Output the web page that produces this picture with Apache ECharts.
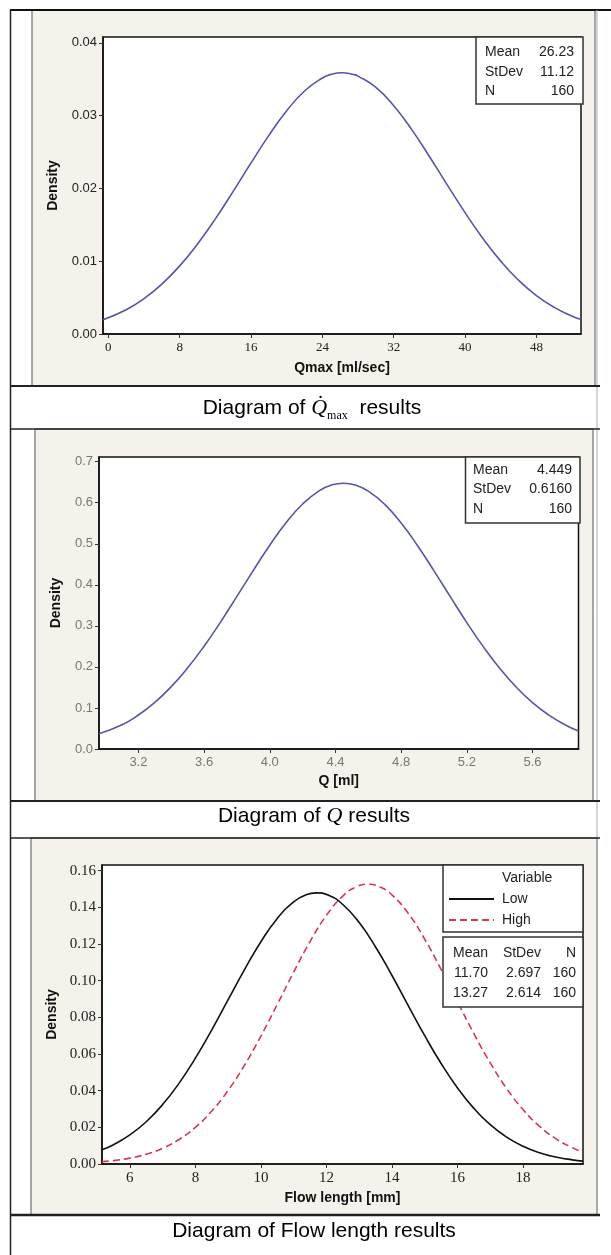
<!DOCTYPE html>
<html><head><meta charset="utf-8">
<script src="https://cdn.jsdelivr.net/npm/echarts@6/dist/echarts.min.js"></script>
<style>html,body{margin:0;padding:0;background:#fff}#c{width:611px;height:1255px}</style>
</head><body><div id="c"></div>
<script>
// ---- Panel 1: Qmax ----
const qmaxX = [-0.6, 2, 4, 6, 8, 10, 12, 14, 16, 18, 20, 22, 24, 25, 26.23, 27.5, 28, 30, 32, 34, 36, 38, 40, 42, 44, 46, 48, 50, 52, 53];
const qmaxDensity = [0.00195, 0.00334, 0.00487, 0.00686, 0.00936, 0.01237, 0.01582, 0.01960, 0.02350, 0.02728, 0.03067, 0.03338, 0.03517, 0.03567, 0.03588, 0.03565, 0.03543, 0.03388, 0.03136, 0.02811, 0.02439, 0.02049, 0.01667, 0.01313, 0.01001, 0.00739, 0.00528, 0.00365, 0.00245, 0.00198];
const qmaxXTicks = [0, 8, 16, 24, 32, 40, 48];
const qmaxYTicks = [0, 0.01, 0.02, 0.03, 0.04];
const qmaxStatLabels = ['Mean', 'StDev', 'N'];
const qmaxStatValues = ['26.23', '11.12', '160'];

// ---- Panel 2: Q ----
const qX = [2.96, 3.1, 3.2, 3.3, 3.4, 3.5, 3.6, 3.7, 3.8, 3.9, 4.0, 4.1, 4.2, 4.3, 4.38, 4.449, 4.52, 4.6, 4.7, 4.8, 4.9, 5.0, 5.1, 5.2, 5.3, 5.4, 5.5, 5.6, 5.7, 5.8, 5.88];
const qDensity = [0.0370, 0.0589, 0.0829, 0.1137, 0.1519, 0.1977, 0.2505, 0.3092, 0.3718, 0.4353, 0.4965, 0.5516, 0.5968, 0.6290, 0.6436, 0.6476, 0.6434, 0.6284, 0.5960, 0.5506, 0.4953, 0.4341, 0.3705, 0.3080, 0.2494, 0.1967, 0.1511, 0.1130, 0.0824, 0.0585, 0.0436];
const qXTicks = [3.2, 3.6, 4.0, 4.4, 4.8, 5.2, 5.6];
const qYTicks = [0, 0.1, 0.2, 0.3, 0.4, 0.5, 0.6, 0.7];
const qStatLabels = ['Mean', 'StDev', 'N'];
const qStatValues = ['4.449', '0.6160', '160'];

// ---- Panel 3: Flow length ----
const flowLowX = [5.15, 5.5, 6, 6.5, 7, 7.5, 8, 8.5, 9, 9.5, 10, 10.5, 11, 11.35, 11.7, 12.05, 12.5, 13, 13.5, 14, 14.5, 15, 15.5, 16, 16.5, 17, 17.5, 18, 18.5, 19, 19.5, 19.83];
const flowLow = [0.00775, 0.01053, 0.01585, 0.02306, 0.03240, 0.04399, 0.05772, 0.07317, 0.08962, 0.10606, 0.12126, 0.13398, 0.14302, 0.14668, 0.14792, 0.14668, 0.14155, 0.13170, 0.11839, 0.10283, 0.08629, 0.06997, 0.05482, 0.04150, 0.03035, 0.02145, 0.01465, 0.00966, 0.00616, 0.00379, 0.00226, 0.00157];
const flowHighX = [5.15, 5.5, 6, 6.5, 7, 7.5, 8, 8.5, 9, 9.5, 10, 10.5, 11, 11.5, 12, 12.5, 12.9, 13.27, 13.65, 14, 14.5, 15, 15.5, 16, 16.5, 17, 17.5, 18, 18.5, 19, 19.5, 19.83];
const flowHigh = [0.00123, 0.00184, 0.00319, 0.00533, 0.00860, 0.01335, 0.02000, 0.02887, 0.04019, 0.05394, 0.06979, 0.08705, 0.10468, 0.12135, 0.13563, 0.14614, 0.15110, 0.15262, 0.15098, 0.14678, 0.13662, 0.12260, 0.10606, 0.08846, 0.07113, 0.05514, 0.04120, 0.02969, 0.02062, 0.01381, 0.00892, 0.00655];
const flowXTicks = [6, 8, 10, 12, 14, 16, 18];
const flowYTicks = [0, 0.02, 0.04, 0.06, 0.08, 0.10, 0.12, 0.14, 0.16];
const flowSeriesNames = ['Low', 'High'];
const flowStatHeader = ['Mean', 'StDev', 'N'];
const flowStatLow = ['11.70', '2.697', '160'];
const flowStatHigh = ['13.27', '2.614', '160'];

const SANS = 'Liberation Sans, Arial, sans-serif';
const SERIF = 'Liberation Serif, Times New Roman, serif';

function pairs(xs, ys) { return xs.map((x, i) => [x, ys[i]]); }

function makeX(gi, min, max, ticks, dec, name, fam, size, color, gap) {
  return {
    type: 'value', gridIndex: gi, min: min, max: max,
    name: name, nameLocation: 'middle', nameGap: gap,
    nameTextStyle: { fontFamily: SANS, fontWeight: 'bold', fontSize: 14, color: '#111' },
    axisLine: { show: true, onZero: false, lineStyle: { color: '#111', width: 1.5 } },
    axisTick: { show: true, inside: false, length: 4, customValues: ticks, lineStyle: { color: '#333' } },
    axisLabel: { customValues: ticks, margin: 7, fontFamily: fam, fontSize: size, color: color,
      formatter: v => Number(v).toFixed(dec) },
    splitLine: { show: false }
  };
}
function makeY(gi, max, ticks, dec, fam, size, color, gap) {
  return {
    type: 'value', gridIndex: gi, min: 0, max: max,
    name: 'Density', nameLocation: 'middle', nameGap: gap,
    nameTextStyle: { fontFamily: SANS, fontWeight: 'bold', fontSize: 14, color: '#111' },
    axisLine: { show: true, onZero: false, lineStyle: { color: '#111', width: 1.5 } },
    axisTick: { show: true, inside: false, length: 4, customValues: ticks, lineStyle: { color: '#333' } },
    axisLabel: { customValues: ticks, margin: 6, fontFamily: fam, fontSize: size, color: color,
      formatter: v => Number(v).toFixed(dec) },
    splitLine: { show: false }
  };
}

function statBox(x, y, w, h, rows, labelX, valueX, statLabels, statValues) {
  const els = [{ type: 'rect', shape: { x: x, y: y, width: w, height: h },
    style: { fill: '#fff', stroke: '#333', lineWidth: 1.5 }, z: 10 }];
  statLabels.forEach((l, i) => {
    els.push({ type: 'text', z: 11, style: { x: labelX, y: rows[i], text: l, align: 'left', verticalAlign: 'middle',
      fontFamily: SANS, fontSize: 14, fill: '#222' } });
    els.push({ type: 'text', z: 11, style: { x: valueX, y: rows[i], text: statValues[i], align: 'right', verticalAlign: 'middle',
      fontFamily: SANS, fontSize: 14, fill: '#222' } });
  });
  return els;
}

const graphics = [];
const BEIGE = '#f4f2ea';
graphics.push({ type: 'rect', z: -100, shape: { x: 32, y: 10, width: 563, height: 376 }, style: { fill: BEIGE, stroke: '#555', lineWidth: 1 } });
graphics.push({ type: 'rect', z: -100, shape: { x: 35, y: 429, width: 558, height: 372 }, style: { fill: BEIGE, stroke: '#555', lineWidth: 1 } });
graphics.push({ type: 'rect', z: -100, shape: { x: 31, y: 838, width: 566, height: 377 }, style: { fill: BEIGE, stroke: '#555', lineWidth: 1 } });
const hl = (y, w) => ({ type: 'line', z: -50, shape: { x1: 10, y1: y, x2: 600, y2: y }, style: { stroke: '#222', lineWidth: w } });
graphics.push({ type: 'line', z: -50, shape: { x1: 10, y1: 10, x2: 611, y2: 10 }, style: { stroke: '#111', lineWidth: 2 } });
graphics.push({ type: 'line', z: -50, shape: { x1: 10.5, y1: 10, x2: 10.5, y2: 1255 }, style: { stroke: '#222', lineWidth: 1.5 } });
graphics.push({ type: 'line', z: -50, shape: { x1: 597, y1: 10, x2: 597, y2: 1215 }, style: { stroke: '#aaa', lineWidth: 1 } });
graphics.push(hl(386, 2), hl(429, 1.5), hl(801, 2), hl(838, 1.5), hl(1215, 2.5));

const capRich = {
  a: { fontFamily: SANS, fontSize: 21, color: '#333', lineHeight: 28 },
  q: { fontFamily: SERIF, fontStyle: 'italic', fontSize: 22, color: '#333', lineHeight: 28 },
  s: { fontFamily: SERIF, fontSize: 12, color: '#333', lineHeight: 14, verticalAlign: 'bottom' }
};
graphics.push({ type: 'text', z: 5, style: { x: 312, y: 408, text: '{a|Diagram of }{q|Q\u0307}{s|max}{a|  results}', rich: capRich, align: 'center', verticalAlign: 'middle' } });
graphics.push({ type: 'text', z: 5, style: { x: 314, y: 816, text: '{a|Diagram of }{q|Q}{a| results}', rich: capRich, align: 'center', verticalAlign: 'middle' } });
graphics.push({ type: 'text', z: 5, style: { x: 314, y: 1231, text: '{a|Diagram of Flow length results}', rich: capRich, align: 'center', verticalAlign: 'middle' } });

graphics.push(...statBox(476, 37, 107, 67, [52, 72, 91], 485, 574, qmaxStatLabels, qmaxStatValues));
graphics.push(...statBox(465.5, 457, 114.5, 66, [470, 489.5, 509], 473, 572, qStatLabels, qStatValues));
graphics.push({ type: 'rect', z: 10, shape: { x: 443, y: 865, width: 140, height: 67 }, style: { fill: '#fff', stroke: '#333', lineWidth: 1.5 } });
graphics.push({ type: 'text', z: 11, style: { x: 502, y: 878, text: 'Variable', align: 'left', verticalAlign: 'middle', fontFamily: SANS, fontSize: 14, fill: '#222' } });
graphics.push({ type: 'rect', z: 10, shape: { x: 443, y: 937, width: 140, height: 70 }, style: { fill: '#fff', stroke: '#333', lineWidth: 1.5 } });
const colRight = [488, 541, 576];
[flowStatHeader, flowStatLow, flowStatHigh].forEach((row, r) => {
  row.forEach((t, c) => {
    graphics.push({ type: 'text', z: 11, style: { x: colRight[c], y: 953 + r * 20, text: t, align: 'right', verticalAlign: 'middle', fontFamily: SANS, fontSize: 14, fill: '#222' } });
  });
});

const gridBase = { show: true, backgroundColor: '#fff', borderColor: '#111', borderWidth: 1.5 };
const lineBase = { type: 'line', smooth: true, symbol: 'none' };

const option = {
  backgroundColor: '#fff',
  animation: false,
  grid: [
    Object.assign({ left: 103, right: 30, top: 37, height: 297 }, gridBase),
    Object.assign({ left: 99, right: 32.5, top: 457, height: 292 }, gridBase),
    Object.assign({ left: 102, right: 28, top: 865, height: 299 }, gridBase)
  ],
  xAxis: [
    makeX(0, -0.6, 53, qmaxXTicks, 0, 'Qmax [ml/sec]', SERIF, 13, '#222', 27),
    makeX(1, 2.96, 5.88, qXTicks, 1, 'Q [ml]', SANS, 13, '#777', 25),
    makeX(2, 5.15, 19.83, flowXTicks, 0, 'Flow length [mm]', SERIF, 15, '#222', 27)
  ],
  yAxis: [
    makeY(0, 0.0408, qmaxYTicks, 2, SANS, 13, '#222', 43),
    makeY(1, 0.7114, qYTicks, 1, SANS, 13, '#777', 36),
    makeY(2, 0.1631, flowYTicks, 2, SERIF, 15, '#222', 43)
  ],
  legend: {
    data: flowSeriesNames, orient: 'vertical', left: 448, top: 892, padding: 0, itemWidth: 45, itemHeight: 14, itemGap: 7,
    itemStyle: { opacity: 0 },
    textStyle: { fontFamily: SANS, fontSize: 14, color: '#222', padding: [0, 0, 0, 3] }, z: 20
  },
  graphic: graphics,
  series: [
    Object.assign({ name: 'Qmax', xAxisIndex: 0, yAxisIndex: 0, data: pairs(qmaxX, qmaxDensity),
      lineStyle: { color: '#5656a6', width: 1.6 } }, lineBase),
    Object.assign({ name: 'Q', xAxisIndex: 1, yAxisIndex: 1, data: pairs(qX, qDensity),
      lineStyle: { color: '#5656a6', width: 1.6 } }, lineBase),
    Object.assign({ name: flowSeriesNames[0], xAxisIndex: 2, yAxisIndex: 2, data: pairs(flowLowX, flowLow),
      color: '#111', lineStyle: { color: '#111', width: 1.6 } }, lineBase),
    Object.assign({ name: flowSeriesNames[1], xAxisIndex: 2, yAxisIndex: 2, data: pairs(flowHighX, flowHigh),
      color: '#d23a52', lineStyle: { color: '#d23a52', width: 1.6, type: [7, 4] } }, lineBase)
  ]
};
const chart = echarts.init(document.getElementById('c'), null, { renderer: 'canvas' });
chart.setOption(option);
</script></body></html>
